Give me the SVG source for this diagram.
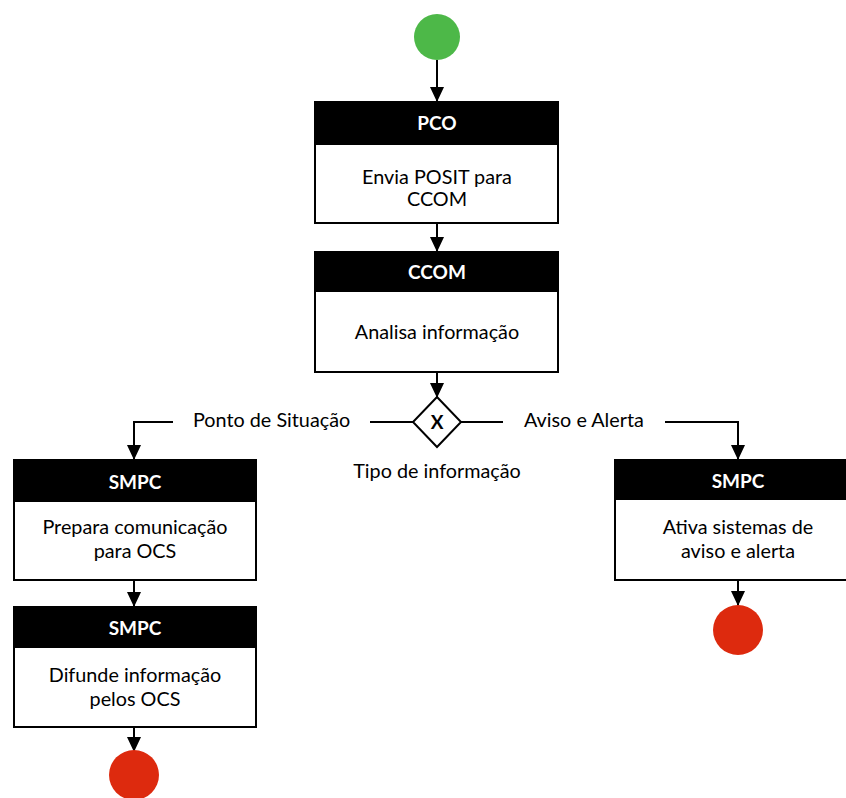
<svg xmlns="http://www.w3.org/2000/svg" width="846" height="798" viewBox="0 0 846 798">
<defs>
<style>
.box{fill:#fff;stroke:#000;stroke-width:2}
.hdr{fill:#000}
.ht{font-family:Lato,"Open Sans",sans-serif;font-weight:bold;font-size:19px;fill:#fff;text-anchor:middle}
.bt{font-family:Lato,"Open Sans",sans-serif;font-size:19.8px;fill:#000;text-anchor:middle}
.lt{font-family:Lato,"Open Sans",sans-serif;font-size:19.8px;fill:#000}
.ln{fill:none;stroke:#000;stroke-width:2}
</style>
<marker id="ah" markerWidth="15" markerHeight="14" refX="15" refY="7" orient="auto" markerUnits="userSpaceOnUse">
<path d="M0,0 L15,7 L0,14 Z" fill="#000"/>
</marker>
</defs>
<rect width="846" height="798" fill="#fff"/>
<g id="connectors">
<line class="ln" x1="437" y1="60" x2="437" y2="102" marker-end="url(#ah)"/>
<line class="ln" x1="437" y1="223" x2="437" y2="252" marker-end="url(#ah)"/>
<line class="ln" x1="437" y1="372" x2="437" y2="398" marker-end="url(#ah)"/>
<line class="ln" x1="413" y1="422" x2="370" y2="422"/>
<polyline class="ln" points="173,422 134,422 134,460" marker-end="url(#ah)"/>
<line class="ln" x1="461" y1="422" x2="503" y2="422"/>
<polyline class="ln" points="665,422 738,422 738,460" marker-end="url(#ah)"/>
<line class="ln" x1="134" y1="580" x2="134" y2="607" marker-end="url(#ah)"/>
<line class="ln" x1="134" y1="727" x2="134" y2="752" marker-end="url(#ah)"/>
<line class="ln" x1="738" y1="580" x2="738" y2="606" marker-end="url(#ah)"/>
<text class="lt" x="193" y="427">Ponto de Situação</text>
<text class="lt" x="524" y="427">Aviso e Alerta</text>
</g>
<g id="start">
<circle cx="437" cy="37" r="23" fill="#4db848"/>
</g>
<g id="pco">
<rect class="box" x="315" y="102" width="243" height="121"/>
<rect class="hdr" x="315" y="102" width="243" height="43"/>
<text class="ht" x="437" y="130">PCO</text>
<text class="bt" x="437" y="184">Envia POSIT para</text>
<text class="bt" x="437" y="206">CCOM</text>
</g>
<g id="ccom">
<rect class="box" x="315" y="252" width="243" height="120"/>
<rect class="hdr" x="315" y="252" width="243" height="40"/>
<text class="ht" x="437" y="279">CCOM</text>
<text class="bt" x="437" y="339">Analisa informação</text>
</g>
<g id="gateway">
<path d="M437,397 L461,422 L437,447 L413,422 Z" fill="#fff" stroke="#000" stroke-width="2"/>
<text x="437" y="429" font-family="Lato,'Open Sans',sans-serif" font-weight="bold" font-size="19" text-anchor="middle">X</text>
<text class="bt" x="437" y="478">Tipo de informação</text>
</g>
<g id="smpc1">
<rect class="box" x="14" y="460" width="242" height="120"/>
<rect class="hdr" x="14" y="460" width="242" height="42"/>
<text class="ht" x="135" y="489">SMPC</text>
<text class="bt" x="135" y="534">Prepara comunicação</text>
<text class="bt" x="135" y="558">para OCS</text>
</g>
<g id="smpc2">
<rect class="box" x="14" y="607" width="242" height="120"/>
<rect class="hdr" x="14" y="607" width="242" height="41"/>
<text class="ht" x="135" y="635">SMPC</text>
<text class="bt" x="135" y="682">Difunde informação</text>
<text class="bt" x="135" y="706">pelos OCS</text>
</g>
<g id="end1">
<circle cx="134" cy="775" r="25" fill="#dd2a0e"/>
</g>
<g id="smpc3">
<rect class="box" x="615" y="460" width="245" height="120"/>
<rect class="hdr" x="615" y="460" width="245" height="40"/>
<text class="ht" x="738" y="488">SMPC</text>
<text class="bt" x="738" y="534">Ativa sistemas de</text>
<text class="bt" x="738" y="558">aviso e alerta</text>
</g>
<g id="end2">
<circle cx="738" cy="630" r="25" fill="#dd2a0e"/>
</g>
</svg>
